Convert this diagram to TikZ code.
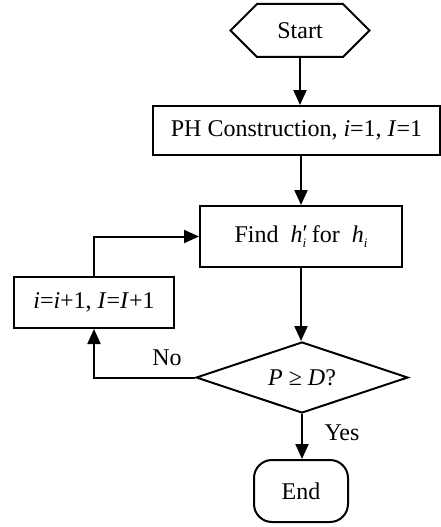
\documentclass[tikz,border=0pt]{standalone}
\usepackage{fontspec}
\setmainfont{Liberation Serif}
\usetikzlibrary{arrows.meta,shapes.geometric,shapes.symbols}

\newcommand{\smi}{\raisebox{-0.4ex}{\fontsize{13}{13}\selectfont\textit{i}}}

\tikzset{
    proc/.style={draw, line width=2pt, inner sep=0pt},
    arr/.style={line width=2pt, -{Triangle[width=13pt,length=15pt]}},
    lbl/.style={inner sep=0pt}
}

\begin{document}
\begin{tikzpicture}[x=1pt,y=-1pt,font=\fontsize{24}{28}\selectfont]
    \useasboundingbox (0,0) rectangle (441,527);

    \node[proc, signal, signal to=west and east, minimum width=139pt, minimum height=53pt] (start) at (300,30.5) {Start};
    \node[proc, minimum width=287pt, minimum height=49pt] (ph) at (296.5,130.5) {PH Construction, \textit{i}=1, \textit{I}=1};
    \node[proc, minimum width=202pt, minimum height=61pt] (find) at (301,236.5) {Find \ \textit{h}\rlap{\smi}\raisebox{0.1ex}{′}\,for \ \textit{h}\smi};
    \node[proc, minimum width=160pt, minimum height=51pt] (upd) at (94,302.5) {\textit{i}=\textit{i}+1, \textit{I}=\textit{I}+1};
    \node[proc, diamond, aspect=3, minimum width=212pt, minimum height=71pt] (dec) at (302,377.5) {\textit{P} ≥ \textit{D}?};
    \node[proc, rounded corners=18pt, minimum width=94pt, minimum height=62pt] (end) at (301,491) {End};

    \draw[arr] (start.south) -- (start.south |- ph.north);
    \draw[arr] (find.north |- ph.south) -- (find.north);
    \draw[arr] (find.south) -- (find.south |- dec.north);
    \draw[arr] (dec.south) -- (dec.south |- end.north);
    \draw[arr] (dec.west) -| (upd.south);
    \draw[arr] (upd.north) |- (find.west);

    \node[lbl] (no) at (167,358) {No};
    \node[lbl] (yes) at (342,433) {Yes};
\end{tikzpicture}
\end{document}
